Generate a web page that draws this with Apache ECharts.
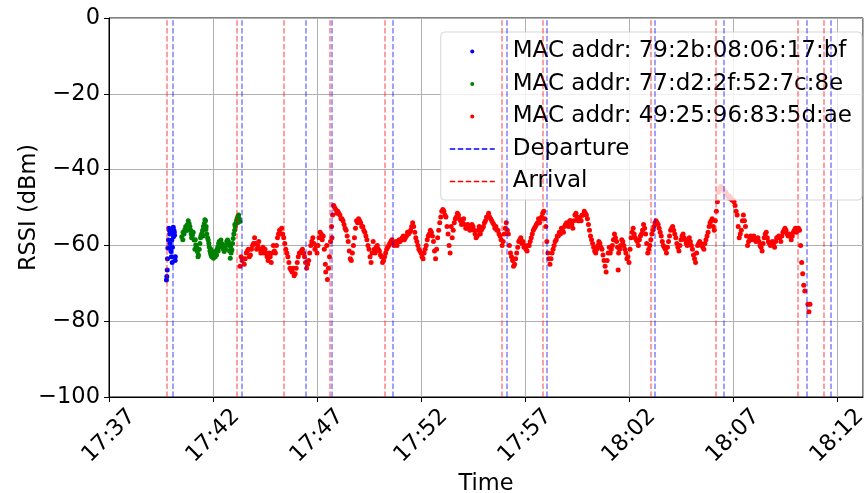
<!DOCTYPE html>
<html>
<head>
<meta charset="utf-8">
<script src="https://cdn.jsdelivr.net/npm/echarts@6/dist/echarts.min.js"></script>
<style>
html,body{margin:0;padding:0;background:#fff;}
#chart{width:864px;height:493px;}
</style>
</head>
<body>
<div id="chart"></div>
<script>
// Time values are minutes after 17:37
const xTickLabels = ['17:37','17:42','17:47','17:52','17:57','18:02','18:07','18:12'];
const yTicks = [-100,-80,-60,-40,-20,0];
const seriesNames = ['MAC addr: 79:2b:08:06:17:bf','MAC addr: 77:d2:2f:52:7c:8e','MAC addr: 49:25:96:83:5d:ae'];

const arrivals   = [2.79, 6.15, 8.42, 10.63, 13.26, 18.88, 20.87, 26.04, 29.19, 33.13, 34.36];
const departures = [3.05, 6.37, 9.46, 10.73, 13.65, 19.11, 21.03, 26.25, 29.54, 33.56, 34.71];

const bluePoints = [[2.76,-69.1],[2.78,-68.2],[2.8,-66.5],[2.81,-63.5],[2.83,-60.7],[2.86,-58.6],[2.88,-55.5],[2.9,-56],[2.92,-57],[2.93,-59.5],[2.95,-60.8],[2.98,-61.6],[3.0,-63],[3.02,-58.6],[3.04,-64.5],[3.05,-60.5],[3.07,-56.4],[3.09,-55.2],[3.1,-57.7],[3.12,-56],[3.14,-56.5],[3.15,-57.3],[3.18,-64],[3.19,-63]];

const greenPoints = [[3.5,-57.7],[3.56,-56.5],[3.61,-57],[3.65,-55.8],[3.69,-55],[3.73,-56],[3.77,-54.5],[3.81,-53.5],[3.85,-54.2],[3.89,-55],[3.93,-56],[3.97,-58],[4.01,-57.3],[4.05,-56.5],[4.09,-58.6],[4.13,-61],[4.17,-59.9],[4.21,-60.5],[4.25,-61.6],[4.3,-62.5],[4.34,-61],[4.37,-59.5],[4.4,-58],[4.43,-57.3],[4.47,-56.8],[4.5,-56],[4.54,-55],[4.58,-54.2],[4.61,-53.2],[4.64,-53.5],[4.67,-55],[4.7,-57],[4.74,-58],[4.77,-58.6],[4.8,-59.5],[4.82,-60.4],[4.85,-61.5],[4.88,-62],[4.91,-62.6],[4.94,-63],[4.98,-62.5],[5.02,-63.4],[5.06,-62],[5.11,-63],[5.14,-61.5],[5.17,-62.5],[5.2,-61],[5.23,-60.4],[5.27,-59.5],[5.3,-59],[5.34,-60],[5.38,-58.6],[5.42,-59.5],[5.46,-60.4],[5.5,-61],[5.54,-61.6],[5.58,-60.5],[5.62,-59.9],[5.66,-59],[5.7,-58.6],[5.74,-59],[5.78,-59.9],[5.8,-61.5],[5.83,-63.4],[5.87,-62],[5.91,-61.2],[5.94,-59.5],[5.97,-58.2],[6.0,-57],[6.04,-56],[6.07,-55],[6.1,-54.2],[6.13,-53.5],[6.16,-52.9],[6.2,-52.3],[6.23,-52],[6.26,-53],[6.29,-53.7],
[3.55,-58.5],[3.75,-56],[3.95,-57],[4.15,-58.5],[4.28,-63],[4.52,-57.5],[4.66,-55.8],[4.9,-61],[5.0,-61.8],[5.25,-61.5],[5.4,-60.5],[5.6,-61],[5.85,-60.5],[6.05,-54.5],[6.18,-54]];

const redPoints = [[6.3,-65.5],[6.35,-63],[6.4,-64],[6.5,-65],[6.55,-63.5],[6.6,-62],[6.7,-61],[6.8,-62.5],[6.9,-60],[7.0,-58],[7.1,-61],[7.2,-59],[7.3,-62],[7.4,-60.5],[7.5,-61],[7.6,-63],[7.7,-62],[7.8,-64.5],[7.9,-60],[8.0,-62],[8.1,-58],[8.2,-56],[8.3,-55.5],[8.4,-58],[8.5,-61],[8.6,-63],[8.7,-66],[8.8,-67],[8.9,-68],[9.0,-66],[9.1,-63],[9.2,-62],[9.3,-61],[9.4,-63],[9.5,-66],[9.6,-64],[9.7,-60],[9.8,-58],[9.9,-61],[10.0,-62],[10.1,-58],[10.2,-57],[10.3,-57.5],[10.4,-65],[10.42,-67],[10.47,-60],[10.5,-69],[10.6,-63],[10.7,-55],[10.72,-58],[10.75,-52],[10.8,-49.5],[10.9,-50.5],[11.0,-51],[11.1,-52],[11.2,-53],[11.3,-54.5],[11.4,-56],[11.5,-59],[11.6,-63.5],[11.7,-62],[11.8,-58],[11.9,-53.5],[12.0,-53],[12.1,-54],[12.2,-55],[12.3,-56.5],[12.4,-58.5],[12.5,-61],[12.6,-64.5],[12.7,-59],
[12.8,-62],[12.9,-60],[13.0,-61.5],[13.1,-63],[13.2,-64],[13.3,-62],[13.4,-60.5],[13.5,-59.5],[13.6,-58.5],[13.7,-60],[13.8,-59],[13.9,-59],[14.0,-59],[14.1,-58],[14.2,-58.5],[14.3,-57.5],[14.4,-57],[14.5,-56],[14.6,-54],[14.7,-56.5],[14.8,-59],[14.9,-61],[15.0,-62],[15.1,-63.5],[15.2,-61],[15.3,-58.5],[15.4,-57],[15.5,-56.5],[15.6,-59],[15.7,-63.5],[15.75,-61],[15.8,-58],[15.85,-56],[15.9,-54],[16.0,-51],[16.1,-51],[16.2,-52.5],[16.3,-57],[16.35,-60],[16.4,-62],[16.45,-55],[16.5,-58],[16.6,-54],[16.7,-52.5],[16.8,-52],[16.9,-53.5],[17.0,-54],[17.1,-54.5],[17.2,-55.5],[17.3,-55],[17.4,-55.5],[17.5,-55],[17.6,-57],[17.7,-57.5],[17.8,-55],
[17.9,-56],[18.0,-55],[18.1,-53.5],[18.2,-52.5],[18.3,-52.5],[18.4,-53.5],[18.5,-54.5],[18.6,-55],[18.7,-56],[18.8,-57.5],[18.9,-60],[19.0,-57],[19.1,-54],[19.2,-57],[19.3,-62],[19.4,-64],[19.5,-65],[19.6,-62],[19.7,-59],[19.8,-58],[19.9,-59],[20.0,-60],[20.1,-61.5],[20.2,-60],[20.3,-58],[20.4,-56],[20.5,-55],[20.6,-54],[20.7,-54],[20.8,-52.5],[20.9,-51],[21.0,-55],[21.05,-59],[21.1,-62],[21.2,-65],[21.3,-62],[21.4,-60],[21.5,-58.5],[21.6,-57.5],[21.7,-57],[21.8,-56],[21.9,-55],[22.0,-54],[22.1,-55],[22.2,-53.5],[22.3,-55.5],[22.4,-52],[22.5,-52.5],[22.6,-53.5],[22.7,-53.5],[22.8,-52],
[22.9,-51.5],[23.0,-53],[23.1,-56],[23.2,-58.5],[23.3,-60.5],[23.4,-62],[23.5,-60],[23.6,-59.5],[23.7,-61],[23.8,-64],[23.9,-67],[24.0,-62],[24.1,-62],[24.2,-60],[24.3,-57],[24.4,-59],[24.48,-66.5],[24.5,-62],[24.6,-60],[24.7,-59],[24.8,-61],[24.9,-63.5],[25.0,-64.5],[25.1,-58],[25.2,-55.5],[25.3,-58],[25.4,-59],[25.5,-58.5],[25.6,-57],[25.7,-54.5],[25.8,-57],[25.9,-62],[26.0,-60],[26.1,-57],[26.2,-55],[26.3,-53.5],[26.4,-54.5],[26.5,-56.5],[26.6,-59],[26.7,-60.5],[26.8,-62],[26.9,-59],[27.0,-56],[27.1,-55],[27.2,-57],[27.3,-59.5],[27.4,-61.5],[27.5,-58.5],[27.6,-57],[27.7,-58.5],[27.8,-60],[27.9,-58],
[28.0,-60],[28.1,-62.5],[28.2,-64.5],[28.3,-60],[28.4,-59],[28.5,-60],[28.6,-61],[28.7,-58.5],[28.8,-56.5],[28.9,-54],[29.0,-53],[29.1,-56],[29.2,-51],[29.3,-46],[29.4,-44.5],[29.5,-45],[29.6,-46],[29.7,-46.5],[29.8,-47.5],[29.9,-47.5],[30.0,-48],[30.1,-49.5],[30.2,-52],[30.3,-58],[30.4,-56],[30.5,-52],[30.6,-55],[30.7,-60],[30.8,-58],[30.9,-58.5],[31.0,-57.5],[31.1,-59],[31.2,-58],[31.3,-60],[31.4,-61.5],[31.5,-58],[31.6,-56.5],[31.7,-59],[31.8,-60],[31.9,-59],[32.0,-60.5],[32.1,-58],[32.2,-57.5],[32.3,-59],[32.4,-56.5],[32.5,-55.5],[32.6,-57],[32.7,-57],[32.8,-58.5],[32.9,-56.5],[33.0,-55.5],[33.1,-56],[33.2,-56],[33.25,-60],[33.3,-64.5],[33.35,-67.5],[33.4,-70.5],[33.45,-72],[33.6,-75.5],[33.65,-77.5],[33.7,-75.5]];

const redPointsExtra = [[6.45,-63.5],[6.65,-61.5],[6.75,-63],[6.85,-61],[6.95,-59.5],[7.05,-59.5],[7.15,-60],[7.25,-61],[7.35,-61.5],[7.45,-62],[7.55,-62],[7.65,-64],[7.75,-63],[7.85,-62],[7.95,-61.5],[8.05,-60],[8.15,-57],[8.25,-57],[8.35,-57],[8.45,-59.5],[8.55,-62],[8.65,-64.5],[8.75,-66.5],[8.85,-66],[8.95,-67.5],[9.05,-64.5],[9.15,-62],[9.25,-61.5],[9.35,-62],[9.45,-64.5],[9.55,-65],[9.65,-62],[9.75,-59],[9.85,-59.5],[9.95,-60],[10.05,-60],[10.15,-56.5],[10.25,-58.5],[10.35,-61],[10.55,-66],[10.65,-59],[10.85,-50],[10.95,-51.5],[11.05,-51.5],[11.15,-53],[11.25,-53.5],[11.35,-55.5],[11.45,-57.5],[11.55,-61.5],[11.65,-64],[11.75,-60],[11.85,-55.5],[11.95,-54],[12.05,-53.5],[12.15,-55],[12.25,-56],[12.35,-57.5],[12.45,-60],[12.55,-63],[12.65,-62],[12.75,-61],[12.85,-60.5],[12.95,-61],[13.05,-62.5],[13.15,-64.5],[13.25,-63],[13.35,-61],[13.45,-60],[13.55,-59],[13.65,-59.5],[13.75,-59.5],[13.85,-60],[13.95,-58.5],[14.05,-58.5],[14.15,-57.5],[14.25,-58],[14.35,-56.5],[14.45,-56.5],[14.55,-55],[14.65,-55],[14.75,-58],[14.85,-60],[14.95,-61.5],[15.05,-63],[15.15,-62],[15.25,-60],[15.35,-57.5],[15.45,-56],[15.55,-57.5],[15.65,-61.5],[15.95,-52.5],[16.05,-50.5],[16.15,-52],[16.25,-55],[16.55,-56],[16.65,-53],[16.75,-51.5],[16.85,-53],[16.95,-54.5],[17.05,-53],[17.15,-55.5],[17.25,-54.5],[17.35,-56],[17.45,-54.5],[17.55,-56],[17.65,-58],[17.75,-56],[17.85,-57],[17.95,-55.5],[18.05,-54],[18.15,-52.5],[18.25,-51.5],[18.35,-53],[18.45,-54],[18.55,-55.5],[18.65,-56],[18.75,-57],[18.85,-58.5],[18.95,-59],[19.05,-55.5],[19.15,-56],[19.25,-60],[19.35,-63],[19.45,-65.5],[19.55,-63.5],[19.65,-60.5],[19.75,-58.5],[19.85,-59.5],[19.95,-60.5],[20.05,-61],[20.15,-60],[20.25,-59],[20.35,-57],[20.45,-55.5],[20.55,-54.5],[20.65,-53],[20.75,-53],[20.85,-51.5],[20.95,-53],[21.15,-63.5],[21.25,-63.5],[21.35,-61],[21.45,-59],[21.55,-57.5],[21.65,-56.5],[21.75,-55.5],[21.85,-56.5],[21.95,-54.5],[22.05,-54.5],[22.15,-53.5],[22.25,-54.5],[22.35,-53.5],[22.45,-51.5],[22.55,-53.5],[22.65,-52.5],[22.75,-52],[22.85,-51],[22.95,-52],[23.05,-54.5],[23.15,-57.5],[23.25,-59.5],[23.35,-61.5],[23.45,-61],[23.55,-59],[23.65,-60.5],[23.75,-62.5],[23.85,-65.5],[23.95,-64],[24.05,-60.5],[24.15,-61],[24.25,-58.5],[24.35,-58],[24.45,-60.5],[24.55,-61],[24.65,-58.5],[24.75,-60],[24.85,-62],[24.95,-63],[25.05,-61],[25.15,-56.5],[25.25,-57],[25.35,-58.5],[25.45,-60],[25.55,-57.5],[25.65,-56],[25.75,-55.5],[25.85,-59.5],[25.95,-61],[26.05,-58.5],[26.15,-56],[26.25,-54],[26.35,-54],[26.45,-55.5],[26.55,-57.5],[26.65,-60],[26.75,-61],[26.85,-60.5],[26.95,-57.5],[27.05,-55.5],[27.15,-56],[27.25,-58],[27.35,-60.5],[27.45,-60],[27.55,-57.5],[27.65,-58],[27.75,-59.5],[27.85,-59],[27.95,-59],[28.05,-61],[28.15,-63.5],[28.25,-62],[28.35,-59.5],[28.45,-59.5],[28.55,-60.5],[28.65,-59.5],[28.75,-57.5],[28.85,-55],[28.95,-53.5],[29.05,-55],[29.15,-53.5],[29.25,-48.5],[29.35,-45],[29.45,-44.5],[29.55,-45.5],[29.65,-46],[29.75,-47],[29.85,-47],[29.95,-48],[30.05,-48.5],[30.15,-51],[30.25,-55],[30.35,-57],[30.45,-53.5],[30.55,-53.5],[30.65,-57.5],[30.75,-59],[30.85,-57.5],[30.95,-58],[31.05,-58.5],[31.15,-58.5],[31.25,-59],[31.35,-60.5],[31.45,-59.5],[31.55,-57],[31.65,-58],[31.75,-59.5],[31.85,-59.5],[31.95,-59.5],[32.05,-59],[32.15,-58],[32.25,-58],[32.35,-57.5],[32.45,-56],[32.55,-56],[32.65,-57.5],[32.75,-57.5],[32.85,-57.5],[32.95,-56],[33.05,-56.5],[33.15,-55.5]];

const FONT = 'DejaVu Sans';
const FS = 22.5;
const dotIcon = 'path://M0,0M45,14M20.5,7A2,2,0,1,0,24.5,7A2,2,0,1,0,20.5,7Z';
const dashIcon = 'path://M0,0M45,14M0,6.25h5.5v1.5h-5.5zM8,6.25h5.5v1.5h-5.5zM16,6.25h5.5v1.5h-5.5zM24,6.25h5.5v1.5h-5.5zM32,6.25h5.5v1.5h-5.5zM40,6.25h5v1.5h-5z';

const chart = echarts.init(document.getElementById('chart'), null, {renderer: 'canvas'});

function vline(name, color, times) {
  return {
    name: name, type: 'line', data: [], symbol: 'none', showSymbol: false,
    lineStyle: {color: color, width: 1.5, type: [5.5, 2.4]},
    itemStyle: {color: color},
    markLine: {
      silent: true, symbol: 'none', animation: false,
      label: {show: false},
      lineStyle: {color: color, width: 1.5, type: [5.5, 2.4], opacity: 0.5},
      emphasis: {disabled: true},
      data: times.map(t => ({xAxis: t}))
    }
  };
}

function scatter(name, color, pts) {
  return {
    name: name, type: 'scatter', data: pts, symbolSize: 5,
    itemStyle: {color: color, opacity: 1}, emphasis: {disabled: true}, z: 3
  };
}

const option = {
  animation: false,
  backgroundColor: '#fff',
  textStyle: {fontFamily: FONT},
  grid: {left: 109, right: 1, top: 18, bottom: 96, show: true, borderColor: '#000', borderWidth: 1,
    backgroundColor: 'transparent', containLabel: false, outerBoundsMode: 'none'},
  xAxis: {
    type: 'value', min: 0, max: 36.25, interval: 5,
    name: 'Time', nameLocation: 'middle', nameGap: 76, nameMoveOverlap: false,
    nameTextStyle: {fontSize: FS, color: '#000', fontFamily: FONT},
    axisLine: {show: true, onZero: false, lineStyle: {color: '#000', width: 1}},
    axisTick: {show: true, length: 5, lineStyle: {color: '#000'}},
    axisLabel: {
      rotate: 45, align: 'center', verticalAlign: 'middle',
      fontSize: FS, color: '#000', fontFamily: FONT, margin: 39, showMaxLabel: false,
      formatter: v => (Math.abs(v % 5) < 1e-6 ? (xTickLabels[Math.round(v / 5)] || '') : '')
    },
    splitLine: {show: true, lineStyle: {color: '#b0b0b0', width: 1}}
  },
  yAxis: {
    type: 'value', min: yTicks[0], max: yTicks[yTicks.length - 1], interval: 20,
    name: 'RSSI (dBm)', nameLocation: 'middle', nameGap: 68, nameMoveOverlap: false,
    nameTextStyle: {fontSize: FS, color: '#000', fontFamily: FONT},
    axisLine: {show: true, lineStyle: {color: '#000', width: 1}},
    axisTick: {show: true, length: 5, lineStyle: {color: '#000'}},
    axisLabel: {fontSize: FS, color: '#000', fontFamily: FONT, margin: 9,
      formatter: v => (v < 0 ? '\u2212' + Math.abs(v) : String(v))},
    splitLine: {show: true, lineStyle: {color: '#b0b0b0', width: 1}}
  },
  legend: {
    orient: 'vertical', right: 2, top: 32,
    padding: [8, 10, 7, 9],
    itemWidth: 45, itemHeight: 14, itemGap: 9.5,
    backgroundColor: 'rgba(255,255,255,0.8)',
    borderColor: 'rgba(204,204,204,0.8)', borderWidth: 1, borderRadius: 4,
    textStyle: {fontSize: 23, color: '#000', fontFamily: FONT, padding: [0, 0, 0, 13]},
    selectedMode: false,
    data: [
      {name: seriesNames[0], icon: dotIcon},
      {name: seriesNames[1], icon: dotIcon},
      {name: seriesNames[2], icon: dotIcon},
      {name: 'Departure', icon: dashIcon},
      {name: 'Arrival', icon: dashIcon}
    ]
  },
  series: [
    scatter(seriesNames[0], '#0000ff', bluePoints),
    scatter(seriesNames[1], '#008000', greenPoints),
    scatter(seriesNames[2], '#ff0000', redPoints.concat(redPointsExtra)),
    vline('Departure', '#0000ff', departures),
    vline('Arrival', '#ff0000', arrivals)
  ]
};
chart.setOption(option);
</script>
</body>
</html>
